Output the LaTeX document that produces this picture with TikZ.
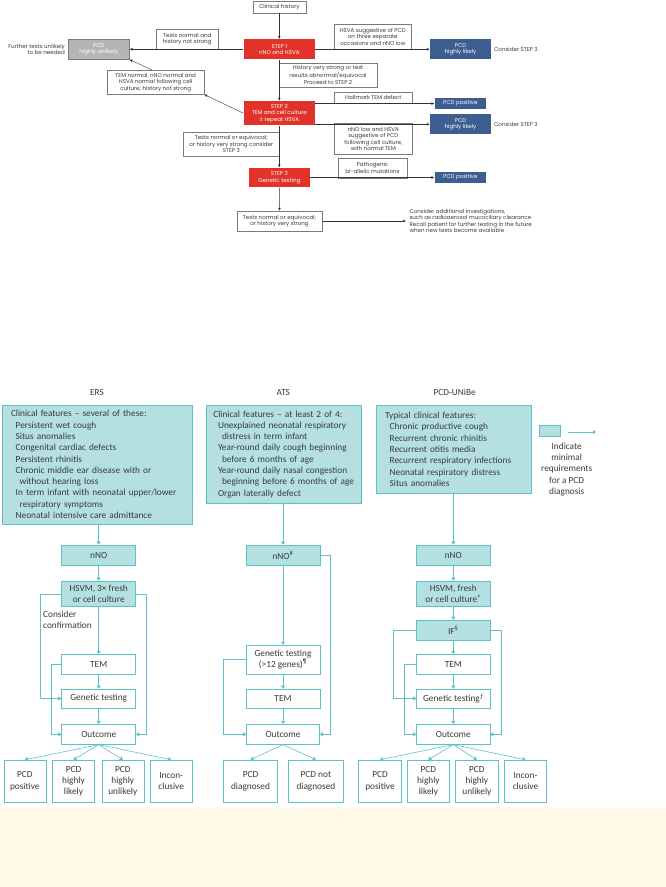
\documentclass[tikz,border=0pt]{standalone}
\usepackage{fontspec}
\setmainfont{Carlito}
\newfontfamily\stepfont{Poppins}
\usetikzlibrary{arrows.meta,backgrounds}

\definecolor{stepred}{HTML}{E2332B}
\definecolor{pcdblue}{HTML}{3D5E90}
\definecolor{boxgray}{HTML}{B5B5B5}
\definecolor{linegray}{HTML}{7A7A7A}
\definecolor{txtgray}{HTML}{3A3A3A}
\definecolor{reqfill}{HTML}{B5E0E2}
\definecolor{reqline}{HTML}{5EC1C5}
\definecolor{notefill}{HTML}{FFFAEA}

\newcommand{\featin}{\hspace*{4.7pt}}
\newcommand{\featmore}{\hspace*{8.7pt}}

\begin{document}
\begin{tikzpicture}[x=1pt,y=-1pt,
  top/.style={font=\stepfont\fontsize{5.55}{6.5}\selectfont, text=txtgray},
  lbl/.style={top, draw=linegray, line width=0.4pt, fill=white, align=center, inner sep=0pt},
  stepbox/.style={top, fill=stepred, text=white, align=center, inner sep=0pt},
  pcdbox/.style={top, fill=pcdblue, text=white, align=center, inner sep=0pt},
  toparrow/.style={draw=black!80, line width=0.4pt, -{Latex[length=3pt,width=2.6pt]}},
  head/.style={font=\fontsize{9.3}{11.3}\selectfont, text=txtgray, inner sep=0pt},
  req/.style={head, draw=reqline, fill=reqfill, line width=0.6pt, align=center,
    minimum width=74, minimum height=20},
  test/.style={req, fill=white},
  flow/.style={draw=reqline, line width=0.6pt, -{Triangle[length=3pt,width=4pt]}}]

\useasboundingbox (0,0) rectangle (666,887);
\fill[notefill] (0,806.7) rectangle (666,887);

% algorithm
\node[lbl, minimum width=53, minimum height=12] (hist) at (279.3,6.7) {Clinical history};
\node[stepbox, minimum width=71.4, minimum height=20] (step1) at (279.3,49.3) {STEP 1\\nNO and HSVA};
\node[top, fill=boxgray, draw=linegray, text=white, align=center, inner sep=0pt,
  minimum width=61, minimum height=20] (unlikely) at (98.8,49.3) {PCD\\highly unlikely};
\node[top, align=right, anchor=east, inner sep=0pt] (further) at (65,49.3) {Further tests unlikely\\to be needed};
\node[lbl, minimum width=62.3, minimum height=20] (normal1) at (187.2,39.3) {Tests normal and\\history not strong};
\node[lbl, minimum width=77.7, minimum height=25] (suggest1) at (372.8,36.8) {HSVA suggestive of PCD\\on three separate\\occasions and nNO low};
\node[pcdbox, minimum width=61, minimum height=20] (likely1) at (460.5,49.3) {PCD\\highly likely};
\node[top, anchor=west, inner sep=0pt] (consider1) at (494,49.3) {Consider STEP 3};
\node[lbl, minimum width=97.4, minimum height=24.6] (strong1) at (328,75) {History very strong or test\\results abnormal/equivocal\\Proceed to STEP 2};
\node[stepbox, minimum width=71.4, minimum height=24.3] (step2) at (279.3,113.2) {STEP 2\\TEM and cell culture\\± repeat HSVA};
\node[lbl, minimum width=78.7, minimum height=11] (hallmark) at (373.3,97.8) {Hallmark TEM defect};
\node[pcdbox, minimum width=51.3, minimum height=11.6] (positive1) at (460.3,103.5) {PCD positive};
\node[pcdbox, minimum width=61, minimum height=20] (likely2) at (460.5,124.3) {PCD\\highly likely};
\node[top, anchor=west, inner sep=0pt] (consider2) at (494,124.3) {Consider STEP 3};
\node[lbl, minimum width=78.7, minimum height=31] (suggest2) at (373.3,138.8) {nNO low and HSVA\\suggestive of PCD\\following cell culture,\\with normal TEM};
\node[lbl, minimum width=96, minimum height=23.3] (normal2) at (231.3,144.3) {Tests normal or equivocal;\\or history very strong consider\\STEP 3};
\node[stepbox, minimum width=60.7, minimum height=19.6] (step3) at (279.3,177.5) {STEP 3\\Genetic testing};
\node[lbl, minimum width=68.4, minimum height=20] (biallelic) at (372.5,167.7) {Pathogenic\\bi-allelic mutations};
\node[pcdbox, minimum width=51.3, minimum height=11.6] (positive2) at (460.3,177.5) {PCD positive};
\node[lbl, minimum width=85.6, minimum height=20] (normal3) at (279.5,221) {Tests normal or equivocal;\\or history very strong};
\node[top, anchor=west, align=left, inner sep=0pt, inner xsep=3.3pt] (additional) at (406,221) {Consider additional investigations,\\such as radioaerosol mucociliary clearance\\Recall patient for further testing in the future\\when new tests become available};
\node[lbl, minimum width=96.7, minimum height=24.3] (normal4) at (155.7,82.2) {TEM normal, nNO normal and\\HSVA normal following cell\\culture; history not strong};

\begin{pgfonlayer}{background}
\draw[toparrow] (step2.west) -- (normal4.south east);
\draw[toparrow] (normal4.south east) -- (unlikely.south east);
\end{pgfonlayer}

\draw[toparrow] (hist) -- (step1);
\draw[toparrow] (step1) -- (unlikely);
\draw[toparrow] (step1) -- (likely1);
\draw[toparrow] (step1) -- (step2);
\draw[toparrow] (step2.east |- positive1) -- (positive1);
\draw[toparrow] (step2.east |- likely2) -- (likely2);
\draw[toparrow] (step2) -- (step3);
\draw[toparrow] (step3) -- (positive2);
\draw[toparrow] (step3) -- (normal3);
\draw[toparrow] (normal3) -- (additional);

% ERS
\node[head] (ersT) at (97,392.7) {ERS};
\node[req, minimum width=189.6, minimum height=119, text width=173, align=left] (ers) at (97.5,464.5)
  {Clinical features -- several of these:\\
   \featin Persistent wet cough\\
   \featin Situs anomalies\\
   \featin Congenital cardiac defects\\
   \featin Persistent rhinitis\\
   \featin Chronic middle ear disease with or\\
   \featmore without hearing loss\\
   \featin In term infant with neonatal upper/lower\\
   \featmore respiratory symptoms\\
   \featin Neonatal intensive care admittance};
\node[req, minimum height=20.7] (ersnno) at (98.7,555.3) {nNO};
\node[req, minimum height=25.7] (ershsvm) at (98.7,593.8) {HSVM, 3× fresh\\or cell culture};
\node[head, anchor=west, align=left] (erscons) at (43,620) {Consider\\confirmation};
\node[test] (erstem) at (98.7,664.3) {TEM};
\node[test, minimum height=19] (ersgen) at (98.7,698.5) {Genetic testing};
\node[test] (ersout) at (98.7,734.3) {Outcome};
\foreach \cx/\name/\txt in {24.8/erso1/{PCD\\positive}, 73.5/erso2/{PCD\\highly\\likely},
    122.8/erso3/{PCD\\highly\\unlikely}, 171.2/erso4/{Incon-\\clusive}}
  \node[test, minimum width=42, minimum height=42.3] (\name) at (\cx,781.2) {\txt};

\draw[flow] (ers.south -| ersnno.north) -- (ersnno);
\draw[flow] (ersnno) -- (ershsvm);
\draw[flow] (ershsvm) -- (erstem);
\draw[flow] (erstem) -- (ersgen);
\draw[flow] (ersgen) -- (ersout);
\draw[flow] (ershsvm.west) -- ++(-21,0) |- (ersgen.west);
\draw[flow] (ershsvm.east) -- ++(10,0) |- (ersout.east);
\draw[flow] (erstem.west) -- ++(-10,0) |- (ersout.west);
\foreach \t in {erso1,erso2,erso3,erso4}
  \draw[flow] (ersout.south) -- (\t.north);

% ATS
\node[head] (atsT) at (283.3,392.7) {ATS};
\node[req, minimum width=155.7, minimum height=98.3, text width=141, align=left] (ats) at (283.85,454.2)
  {Clinical features -- at least 2 of 4:\\
   \featin Unexplained neonatal respiratory\\
   \featmore distress in term infant\\
   \featin Year-round daily cough beginning\\
   \featmore before 6 months of age\\
   \featin Year-round daily nasal congestion\\
   \featmore beginning before 6 months of age\\
   \featin Organ laterally defect};
\node[req, minimum height=20.7] (atsnno) at (283,555.3) {nNO\textsuperscript{\#}};
\node[test, minimum height=29.3] (atsgen) at (283,659.7) {Genetic testing\\(>12 genes)\textsuperscript{¶}};
\node[test, minimum height=19] (atstem) at (283,698.5) {TEM};
\node[test, minimum width=73] (atsout) at (283,734.3) {Outcome};
\foreach \cx/\name/\txt in {250.5/atso1/{PCD\\diagnosed}, 315.9/atso2/{PCD not\\diagnosed}}
  \node[test, minimum width=54.4, minimum height=42.3] (\name) at (\cx,781.2) {\txt};

\draw[flow] (ats.south -| atsnno.north) -- (atsnno);
\draw[flow] (atsnno) -- (atsgen);
\draw[flow] (atsgen) -- (atstem);
\draw[flow] (atstem) -- (atsout);
\draw[flow] (atsnno.east) -- ++(10,0) |- (atsout.east);
\draw[flow] (atsgen.west) -- ++(-22,0) |- (atsout.west);
\foreach \t in {atso1,atso2}
  \draw[flow] (atsout.south) -- (\t.north);

% PCD-UNiBe
\node[head] (uniT) at (454.7,392.7) {PCD-UNiBe};
\node[req, minimum width=155, minimum height=88.3, text width=138.4, align=left] (unibe) at (454.2,449.2)
  {Typical clinical features:\\
   \featin Chronic productive cough\\
   \featin Recurrent chronic rhinitis\\
   \featin Recurrent otitis media\\
   \featin Recurrent respiratory infections\\
   \featin Neonatal respiratory distress\\
   \featin Situs anomalies};
\node[req, minimum width=21.7, minimum height=11.7] (legbox) at (549.9,430.9) {};
\coordinate (legA) at (567.7,432);
\coordinate (legB) at (596,432);
\node[head, align=center] (legtext) at (566.7,469.3) {Indicate\\minimal\\requirements\\for a PCD\\diagnosis};
\node[req, minimum width=73.3, minimum height=20.7] (uninno) at (453.3,555.3) {nNO};
\node[req, minimum width=73.3, minimum height=25.7] (unihsvm) at (453.3,593.8) {HSVM, fresh\\or cell culture\textsuperscript{+}};
\node[req, minimum width=73.3] (uniif) at (453.3,630) {IF\textsuperscript{§}};
\node[test, minimum width=73.3] (unitem) at (453.3,664.3) {TEM};
\node[test, minimum width=73.3, minimum height=19] (unigen) at (453.3,698.5) {Genetic testing\textsuperscript{ƒ}};
\node[test, minimum width=73.3] (uniout) at (453.3,734.3) {Outcome};
\foreach \cx/\name/\txt in {380/unio1/{PCD\\positive}, 428.4/unio2/{PCD\\highly\\likely},
    476.9/unio3/{PCD\\highly\\unlikely}, 525.5/unio4/{Incon-\\clusive}}
  \node[test, minimum width=42.5, minimum height=42.3] (\name) at (\cx,781.2) {\txt};

\draw[flow] (legA) -- (legB);
\draw[flow] (unibe.south -| uninno.north) -- (uninno);
\draw[flow] (uninno) -- (unihsvm);
\draw[flow] (unihsvm) -- (uniif);
\draw[flow] (uniif) -- (unitem);
\draw[flow] (unitem) -- (unigen);
\draw[flow] (unigen) -- (uniout);
\draw[flow] (uniif.west) -- ++(-23.4,0) |- (unigen.west);
\draw[flow] (unitem.west) -- ++(-12,0) |- (uniout.west);
\draw[flow] (uniif.east) -- ++(10.7,0) |- (uniout.east);
\foreach \t in {unio1,unio2,unio3,unio4}
  \draw[flow] (uniout.south) -- (\t.north);
\end{tikzpicture}
\end{document}
